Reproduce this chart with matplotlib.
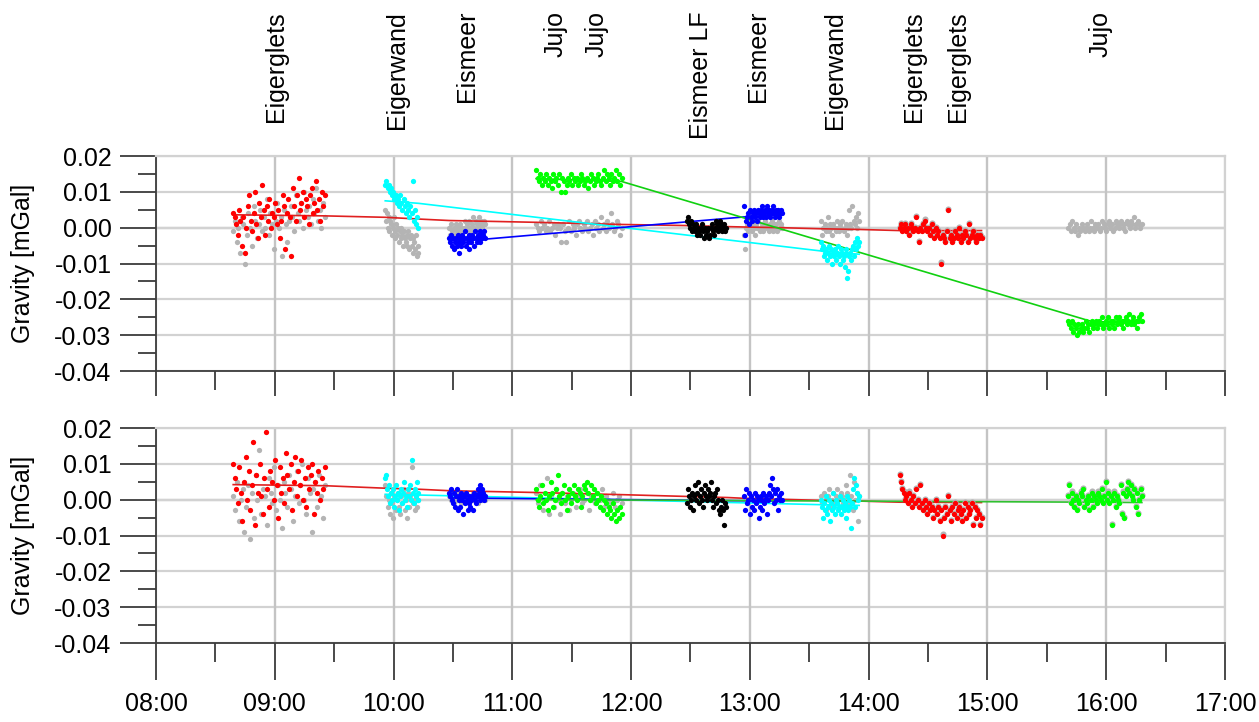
import numpy as np
import matplotlib
matplotlib.use("Agg")
import matplotlib.pyplot as plt
from matplotlib.ticker import MultipleLocator, FixedLocator, FuncFormatter
from matplotlib.transforms import blended_transform_factory

plt.rcParams['font.family'] = ['Liberation Sans', 'DejaVu Sans']
plt.rcParams['axes.unicode_minus'] = False

# ---------------------------------------------------------------- stations
station_names = ["Eigerglets", "Eigerwand", "Eismeer", "Jujo", "Jujo",
                 "Eismeer LF", "Eismeer", "Eigerwand", "Eigerglets",
                 "Eigerglets", "Jujo"]
station_times = [9.01, 10.03, 10.62, 11.36, 11.71, 12.59, 13.07, 13.72,
                 14.38, 14.75, 15.95]

# occupation windows (decimal hours)
win_eigerglets1 = (8.65, 9.42)
win_eigerwand1 = (9.93, 10.21)
win_eismeer1 = (10.47, 10.77)
win_jujo1 = (11.20, 11.92)
win_eismeer_lf = (12.47, 12.80)
win_eismeer2 = (12.95, 13.27)
win_eigerwand2 = (13.60, 13.92)
win_eigerglets2 = (14.26, 14.95)
win_jujo2 = (15.68, 16.30)

# ---------------------------------------------------------------- readings, µGal (upper panel: raw)
eigerglets1_red_raw = [4, 3, 1, -2, 5, 2, -5, 3, -7, 0, 6, 9, 2, -1, 4, 10, 1, -3, 7, 3, 12, 5, -2, 6,
                       2, 8, 0, 4, 3, 7, 1, 5, -3, 2, 9, 6, -6, 4, 8, 3, -8, 11, 6, 2, 9, 14, 5, 7,
                       10, 3, 8, 6, 1, 9, 11, 4, 7, 13, 5, 8, 2, 10, 6, 9]
eigerglets1_grey_raw = [-1, 2, -4, 0, -7, 3, 1, -10, -2, 4, 0, -5, 6, 2, -3, 1, 5, -1, 3, 0, 8, -2,
                        4, 1, -6, 2, 7, 0, 3, -8, 5, 1, -4, 2, 6, 3, -1, 9, 4, 2, 7, 0, 10, 5, 3, 6,
                        1, 8, 4, 11, 2, 5, 0, 7, 3]
eigerwand1_cyan_raw = [12, 13, 11, 12, 10, 11, 9, 10, 8, 9, 7, 8, 6, 9, 7, 5, 8, 6, 4, 7, 5, 3, 6, 4,
                       13, 2, 5, 1, 3, 0]
eigerwand1_grey_raw = [5, 2, 4, 0, 3, -1, 2, 1, -2, 0, 3, -1, -3, 1, -2, 0, -4, -1, -3, 0, -2, -5,
                       -1, -3, -4, -2, -5, -1, -6, -3, -2, -5, -7, -3, -4, -6, -2, -8, -5, -7]
eismeer1_blue_raw = [-3, -4, -2, -5, -3, -6, -4, -3, -5, -2, -4, -7, -3, -5, -2, -4, -3, -1, -5, -3,
                     -4, -2, -6, -3, -4, -2, -3, -5, -1, -3, -4, -2, -3, -1, -4, -2, -3, -2, -1, -3]
eismeer1_grey_raw = [0, -2, 1, -1, -3, 0, -2, 1, -1, 0, -2, -1, 1, 0, -3, -1, 0, 2, -1, 1, 0, -2, 2,
                     0, -1, 1, 3, 0, -1, 2, 1, 0, 3, 1, -1, 2, 0, 1, 2, 1]
jujo1_green_raw = [16, 14, 13, 15, 12, 14, 13, 15, 12, 14, 13, 11, 15, 13, 14, 12, 15, 10, 14, 13,
                   10, 12, 14, 13, 15, 12, 14, 13, 14, 12, 13, 15, 14, 12, 13, 14, 11, 13, 15, 14,
                   12, 13, 14, 15, 13, 12, 14, 16, 13, 15, 14, 12, 15, 13, 14, 16, 13, 15, 12, 14]
jujo1_grey_raw = [1, 0, -1, 2, 0, 1, -1, 0, 2, -1, 0, 1, -2, 0, 1, 0, -4, 1, -1, -4, 0, 2, -1, 1,
                  0, -2, 1, 2, 0, -1, 1, 0, 2, -1, 0, 1, -2, 2, 0, 1, -1, 3, 0, 1, -1, 2, 0, 4, 1,
                  -1, 0, 2, 1, -2, 0]
eismeer_lf_black_raw = [2, 3, 1, 0, 2, -1, 1, 0, -1, 1, -2, 0, -1, -2, 0, 1, -1, -3, 0, -2, -1, 0,
                        -3, -2, 0, 1, -1, -2, 0, 2, 1, -1, 0, 2, 1, -1, 0, 1, -1, 0]
eismeer2_blue_raw = [6, -2, 2, 3, 4, 1, 5, 3, 2, 4, 5, 3, 4, 2, 5, 4, 3, 5, 4, 6, 3, 4, 5, 3, 6, 4,
                     5, 3, 4, 5, 6, 4, 3, 5, 4, 5, 3, 4, 5, 4]
eismeer2_grey_raw = [-2, -6, 0, 1, -1, 0, 2, -1, 1, 0, -2, 1, 0, 2, -1, 0, 1, -1, 0, 2, 1, 0, -1, 1,
                     0, 2, -1, 1, 0, 1, -1, 2, 0, 1, 0]
eigerwand2_cyan_raw = [-4, -6, -5, -8, -7, -6, -9, -7, -5, -8, -6, -10, -7, -8, -6, -9, -7, -5, -8,
                       -10, -6, -7, -9, -8, -11, -7, -6, -14, -12, -8, -7, -9, -6, -5, -8, -4, -6,
                       -3, -5, -4]
eigerwand2_grey_raw = [2, -2, 0, 1, -1, 0, 3, -1, 1, 0, -2, 1, 0, -1, 2, 0, -1, 1, 0, 2, -1, 0, 1,
                       -2, 0, 5, 1, 0, 6, 2, 1, 3, 0, 4, 2]
eigerglets2_red_raw = [0, 1, -1, 0, 1, -1, 0, -2, 1, 0, -1, 0, 3, -1, -4, 0, -1, 1, 2, 0, -1, 0, -2,
                       1, -1, -3, 0, -2, -1, -3, -10, -2, -3, -4, -1, 5, -3, -2, -4, -3, -1, -2, -3,
                       0, -4, -2, -3, -1, -2, -4, 1, -3, -2, -1, -3, -4, -2, -3, -2, -3]
jujo2_green_raw = [-26, -27, -28, -26, -29, -27, -28, -30, -27, -29, -28, -27, -29, -28, -26, -28,
                   -27, -29, -27, -26, -28, -27, -26, -28, -27, -26, -27, -25, -28, -27, -26, -27,
                   -25, -28, -26, -27, -26, -28, -25, -27, -26, -25, -27, -26, -28, -26, -25, -27,
                   -26, -24, -27, -26, -25, -27, -26, -28, -26, -25, -24, -26]
jujo2_grey_raw = [0, 1, -1, 2, 0, -1, 1, -2, 0, -1, 1, 0, -1, 0, 1, -1, 0, 2, 0, -1, 1, 0, 1, -1,
                  0, 2, 1, 0, -1, 1, 2, 0, 1, -1, 0, 2, 1, 0, 1, 2, 0, 1, -1, 2, 1, 0, 2, 1, 3, 0,
                  1, 2, 1, 0, 1]

# ---------------------------------------------------------------- readings, µGal (lower panel: corrected)
eigerglets1_red_corr = [10, 6, 3, -1, 9, 2, -6, 5, 12, 0, 8, -3, 4, 16, -7, 7, 2, 10, 1, -4, 6, 19,
                        3, -2, 8, 5, 0, 11, 4, -5, 9, 2, 6, -1, 13, 7, 3, 10, -3, 5, 12, 1, 8, 4,
                        11, 0, 6, -2, 9, 3, 7, 10, -4, 5, 2, 8, 0, 6, 3, 9]
eigerglets1_grey_corr = [1, -3, 5, -6, 0, 3, -9, -2, 4, -11, 2, -5, 7, 0, 14, -4, 3, 1, -7, 6, 2,
                         -1, 9, -3, 4, 0, -8, 5, 2, -2, 7, 3, -6, 1, 8, -1, 4, 10, 0, -4, 6, 2, -9,
                         3, 5, -2, 7, 1, -5, 4]
eigerwand1_cyan_corr = [6, 7, 3, 1, 4, -1, 2, 0, 3, -2, 1, 4, 0, 2, -3, 1, 3, -1, 2, 5, 0, 1, -2, 3,
                        1, 4, 0, 11, 2, -1, 3, 1, 5, 2, 0]
eigerwand1_grey_corr = [4, 1, -2, 0, -4, 2, -1, -5, 1, -3, 0, 2, -2, -4, 1, -1, 3, -3, 0, -5, 2, -2,
                        1, 9, -1, 0, -3, 1, -2, 0]
eismeer1_blue_corr = [2, 1, 3, 0, -1, 2, -2, 1, 3, -3, 0, 1, -2, 2, 0, -4, 1, -1, 2, 0, -3, 1, -1,
                      -2, 0, 1, -3, 2, 0, -1, 1, 3, 2, 0, 4, 1, 3, 2, 0, 1]
eismeer1_grey_corr = [1, 0, 2, -1, 1, 0, 2, 1, -1, 0, 1, 2, 0, -1, 1, 0, 2, 1, 0, -1, 1, 2, 0, 1, 0]
jujo1_green_corr = [3, 0, -2, 1, 4, -1, 2, 0, -3, 1, 5, 2, -2, 0, 3, 7, 1, -1, 2, 4, 0, -3, 1, 3, -1,
                    2, 4, 1, 0, 3, 2, -2, 1, 4, 3, 5, 2, 0, 4, 1, 3, -1, 2, 0, -2, 1, -3, 0, -1, -4,
                    -2, -3, -5, -1, -4, -6, -3, -5, -2, -4]
jujo1_grey_corr = [2, -1, 4, -3, 0, 6, -4, 1, -2, 3, 0, -4, 2, -1, 1, -3, 0, 2, -2, 1, 3, -1, 0, 2,
                   -3, 1, 0, -1, 2, 0, 3, -2, 1, 0, -1, 2, -2, 0, 1, -1]
eismeer_lf_black_corr = [-1, 3, 1, -2, 0, 2, -3, 1, 4, 0, 2, 5, -1, 1, 3, 0, -2, 2, 4, 1, 0, 3, 1,
                         2, 5, 0, -2, 1, 2, -1, 3, 0, -3, -4, -2, 0, -3, -7, -1, -2]
eismeer2_blue_corr = [1, -3, 3, -1, 0, 2, -4, 1, -2, 0, -3, 2, -1, 1, 0, -5, -2, 1, 0, -3, 2, -1, 0,
                      1, -4, 0, 2, 4, 1, 6, 3, -1, 2, 0, 3, -3, 1, 0, 2, 0]
eigerwand2_cyan_corr = [0, -2, -5, -1, -3, 1, -4, -2, 0, -6, -1, -3, 2, -2, -4, 0, -1, -3, -2, 1,
                        -4, -2, 0, -3, -1, -5, -2, 1, -3, 0, -2, -8, -1, 3, 6, -2, 4, 2, 0, 1]
eigerwand2_grey_corr = [1, -1, 2, 0, -3, 1, 3, -2, 0, 2, -1, 1, 3, 0, -2, 2, 1, -1, 0, 4, 2, -1, 7,
                        1, -3, 5, 0, 2, -6, 1]
eigerglets2_red_corr = [7, 5, 3, 2, 0, 1, -1, 2, 0, -2, 1, -1, 3, 0, -2, 4, -1, -3, 0, -2, -4, -1,
                        -3, -2, -5, -3, 0, -4, -2, -6, -3, -10, -5, -2, -4, 1, -3, -6, -2, -4, -1,
                        -5, -3, -2, -4, -6, -3, -1, -5, -2, -4, -3, -1, -7, -2, -5, -3, -4, -7, -5]
jujo2_green_corr = [1, 4, -1, 2, 0, -2, 1, -3, 0, -1, 2, 1, 3, -2, 0, -1, 1, -3, 0, 2, -2, 1, 0, -1,
                    2, 1, 0, 3, -1, 1, 5, 0, 2, -1, 1, -7, 0, 2, -2, 1, 0, -1, 4, -4, 2, -5, 1, 3,
                    5, 2, 4, 1, 0, 3, -2, 2, -4, 0, 3, 1]

# ---------------------------------------------------------------- adjusted drift curves, µGal
red_curve_t = [8.65, 9.42, 9.93, 10.22, 10.47, 10.77, 11.20, 11.92, 12.47, 12.81, 12.94, 13.27,
               13.60, 13.93, 14.26, 14.95]
red_curve_raw = [3.6, 3.3, 2.9, 2.4, 2.0, 1.8, 1.5, 0.9, 0.6, 0.3, 0.2, 0.0, -0.3, -0.5, -0.8, -0.8]
red_curve_corr = [4.2, 3.9, 3.2, 2.9, 2.5, 2.3, 2.0, 1.4, 0.9, 0.6, 0.4, 0.1, -0.2, -0.4, -0.7, -0.8]

cyan_curve_t = [9.93, 10.21, 13.60, 13.92]
cyan_curve_raw = [7.5, 6.8, -6.5, -7.4]
cyan_curve_corr = [1.5, 1.3, -1.4, -1.6]

blue_curve_t = [10.47, 10.77, 12.95, 13.27]
blue_curve_raw = [-3.5, -3.2, 3.0, 3.6]
blue_curve_corr = [0.5, 0.4, -0.3, -0.4]

green_curve_t = [11.20, 11.92, 15.88, 16.30]
green_curve_raw = [13.7, 12.9, -26.2, -26.5]
green_curve_corr = [0.0, -0.1, -0.7, -0.8]

RED, CYAN, BLUE, GREEN, BLACK, GREY = "#ff0000", "#00ffff", "#0000ff", "#00ff00", "#000000", "#b4b4b4"
FS = 18


def dots(ax, window, values, color, ms=3.8, z=3, halo=False):
    t = np.linspace(window[0], window[1], len(values))
    v = np.asarray(values, dtype=float) / 1000.0
    if halo:
        ax.plot(t, v + 0.0003, 'o', ms=ms + 0.6, color=GREY, mec='none', zorder=z - 0.5)
    ax.plot(t, v, 'o', ms=ms, color=color, mec='none', zorder=z)


def curve(ax, t, values, color, z=2.5):
    ax.plot(t, np.asarray(values) / 1000.0, '-', color=color, lw=1.2, zorder=z)


fig = plt.figure(figsize=(12.59, 7.22), dpi=100)
ax_top = fig.add_axes([0.1239, 0.4861, 0.8491, 0.2978])
ax_bot = fig.add_axes([0.1239, 0.1094, 0.8491, 0.2978])

SPINE = "#3c3c3c"
for ax, hour_len in ((ax_top, 18), (ax_bot, 26.5)):
    ax.set_xlim(8, 17)
    ax.set_ylim(-0.04, 0.02)
    ax.yaxis.set_major_locator(MultipleLocator(0.01))
    ax.yaxis.set_minor_locator(MultipleLocator(0.005))
    ax.xaxis.set_major_locator(FixedLocator(list(range(8, 18))))
    ax.xaxis.set_minor_locator(FixedLocator([h + 0.5 for h in range(8, 17)]))
    ax.yaxis.set_major_formatter(FuncFormatter(lambda v, p: f"{v:.2f}" if abs(v) > 1e-9 else "0.00"))
    ax.xaxis.set_major_formatter(FuncFormatter(lambda v, p: f"{int(round(v)):02d}:00"))
    ax.tick_params(axis='y', which='major', direction='out', length=26, width=1.3,
                   color=SPINE, labelsize=FS, pad=6)
    ax.tick_params(axis='y', which='minor', direction='out', length=13, width=1.3, color=SPINE)
    ax.tick_params(axis='x', which='major', direction='out', length=hour_len, width=1.3,
                   color=SPINE, labelsize=FS, pad=9)
    ax.tick_params(axis='x', which='minor', direction='out', length=13.5, width=1.3, color=SPINE)
    for side in ('left', 'bottom'):
        ax.spines[side].set_color(SPINE)
        ax.spines[side].set_linewidth(1.3)
    for side in ('top', 'right'):
        ax.spines[side].set_color("#d2d2d2")
        ax.spines[side].set_linewidth(1.6)
    ax.grid(True, which='major', color="#d2d2d2", lw=1.6, zorder=0)
    ax.axhline(0, color="#a8a8a8", lw=1.6, zorder=0.5)
    for h in range(9, 17):
        ax.axvline(h, color="#c4c4c4", lw=1.6, zorder=0.6)
    ax.set_axisbelow(True)
    ax.set_ylabel("Gravity [mGal]", fontsize=FS)
    ax.yaxis.set_label_coords(-0.113, 0.5)

ax_top.tick_params(axis='x', labelbottom=False)

# upper panel: raw readings
dots(ax_top, win_eigerglets1, eigerglets1_grey_raw, GREY, z=2)
dots(ax_top, win_eigerwand1, eigerwand1_grey_raw, GREY, z=2)
dots(ax_top, win_eismeer1, eismeer1_grey_raw, GREY, z=2)
dots(ax_top, win_jujo1, jujo1_grey_raw, GREY, z=2)
dots(ax_top, win_eismeer2, eismeer2_grey_raw, GREY, z=2)
dots(ax_top, win_eigerwand2, eigerwand2_grey_raw, GREY, z=2)
dots(ax_top, win_jujo2, jujo2_grey_raw, GREY, z=2)
curve(ax_top, red_curve_t, red_curve_raw, "#e02020")
curve(ax_top, cyan_curve_t, cyan_curve_raw, CYAN)
curve(ax_top, blue_curve_t, blue_curve_raw, BLUE)
curve(ax_top, green_curve_t, green_curve_raw, "#10d010")
dots(ax_top, win_eigerglets1, eigerglets1_red_raw, RED)
dots(ax_top, win_eigerwand1, eigerwand1_cyan_raw, CYAN)
dots(ax_top, win_eismeer1, eismeer1_blue_raw, BLUE)
dots(ax_top, win_jujo1, jujo1_green_raw, GREEN)
dots(ax_top, win_eismeer_lf, eismeer_lf_black_raw, BLACK)
dots(ax_top, win_eismeer2, eismeer2_blue_raw, BLUE)
dots(ax_top, win_eigerwand2, eigerwand2_cyan_raw, CYAN)
dots(ax_top, win_eigerglets2, eigerglets2_red_raw, RED, halo=True)
dots(ax_top, win_jujo2, jujo2_green_raw, GREEN)

# lower panel: drift-corrected readings
dots(ax_bot, win_eigerglets1, eigerglets1_grey_corr, GREY, z=2)
dots(ax_bot, win_eigerwand1, eigerwand1_grey_corr, GREY, z=2)
dots(ax_bot, win_eismeer1, eismeer1_grey_corr, GREY, z=2)
dots(ax_bot, win_jujo1, jujo1_grey_corr, GREY, z=2)
dots(ax_bot, win_eigerwand2, eigerwand2_grey_corr, GREY, z=2)
curve(ax_bot, red_curve_t, red_curve_corr, "#e02020")
curve(ax_bot, cyan_curve_t, cyan_curve_corr, CYAN)
curve(ax_bot, blue_curve_t, blue_curve_corr, BLUE)
curve(ax_bot, green_curve_t, green_curve_corr, "#30c030")
dots(ax_bot, win_eigerglets1, eigerglets1_red_corr, RED)
dots(ax_bot, win_eigerwand1, eigerwand1_cyan_corr, CYAN)
dots(ax_bot, win_eismeer1, eismeer1_blue_corr, BLUE)
dots(ax_bot, win_jujo1, jujo1_green_corr, GREEN)
dots(ax_bot, win_eismeer_lf, eismeer_lf_black_corr, BLACK)
dots(ax_bot, win_eismeer2, eismeer2_blue_corr, BLUE)
dots(ax_bot, win_eigerwand2, eigerwand2_cyan_corr, CYAN)
dots(ax_bot, win_eigerglets2, eigerglets2_red_corr, RED, halo=True)
dots(ax_bot, win_jujo2, jujo2_green_corr, GREEN, halo=True)

# station names above the upper panel
trans = blended_transform_factory(ax_top.transData, fig.transFigure)
for name, t in zip(station_names, station_times):
    fig.text(t, 1 - 11 / 722, name, transform=trans, rotation=90, ha='center', va='top',
             fontsize=FS)

fig.savefig("out.png", dpi=100)
